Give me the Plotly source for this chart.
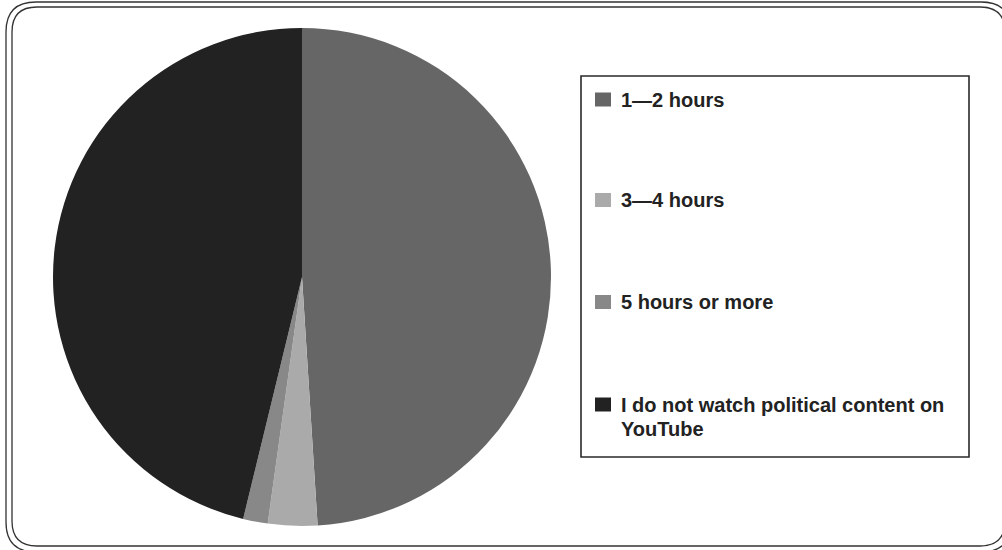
import textwrap
import plotly.graph_objects as go

# Share of respondents by weekly time spent on political YouTube content
labels = ["1\u20142 hours", "3\u20144 hours", "5 hours or more",
          "I do not watch political content on YouTube"]
shares = [49.0, 3.2, 1.6, 46.2]
colors = ["#666666", "#aaaaaa", "#888888", "#222222"]

W, H = 1002, 550


def px(x):
    return x / W


def py(y):
    return 1 - y / H


def rounded_rect(x0, y0, x1, y1, r):
    """SVG path of a rounded rectangle given in pixel coordinates (paper space)."""
    pts = [
        f"M {px(x0 + r)},{py(y0)}",
        f"L {px(x1 - r)},{py(y0)}",
        f"Q {px(x1)},{py(y0)} {px(x1)},{py(y0 + r)}",
        f"L {px(x1)},{py(y1 - r)}",
        f"Q {px(x1)},{py(y1)} {px(x1 - r)},{py(y1)}",
        f"L {px(x0 + r)},{py(y1)}",
        f"Q {px(x0)},{py(y1)} {px(x0)},{py(y1 - r)}",
        f"L {px(x0)},{py(y0 + r)}",
        f"Q {px(x0)},{py(y0)} {px(x0 + r)},{py(y0)}",
        "Z",
    ]
    return " ".join(pts)


fig = go.Figure(go.Pie(
    labels=labels,
    values=shares,
    sort=False,
    direction="clockwise",
    rotation=0,
    marker=dict(colors=colors, line=dict(width=0)),
    textinfo="none",
    hoverinfo="label+percent",
    showlegend=False,
    domain=dict(x=[px(53), px(551)], y=[py(526), py(28)]),
))

shapes = [
    # double rounded frame around the chart
    dict(type="path", xref="paper", yref="paper",
         path=rounded_rect(6, 2, 1011, 552, 30),
         line=dict(color="#333333", width=1.3)),
    dict(type="path", xref="paper", yref="paper",
         path=rounded_rect(12, 7, 1005, 546, 25),
         line=dict(color="#333333", width=1.3)),
    # legend box
    dict(type="rect", xref="paper", yref="paper",
         x0=px(581), x1=px(969), y0=py(457), y1=py(76),
         line=dict(color="#2a2a2a", width=1.6), fillcolor="white"),
]
annotations = []

row_y = [99.5, 200, 302, 404.5]
line_gap = 24.5
for label, color, yc in zip(labels, colors, row_y):
    shapes.append(dict(type="rect", xref="paper", yref="paper",
                       x0=px(595), x1=px(611), y0=py(yc + 7), y1=py(yc - 7),
                       line=dict(width=0), fillcolor=color))
    for i, line in enumerate(textwrap.wrap(label, 35)):
        annotations.append(dict(
            xref="paper", yref="paper", x=px(619), y=py(yc + i * line_gap),
            xanchor="left", yanchor="middle", showarrow=False,
            text=f"<b>{line}</b>",
            font=dict(family="Liberation Sans, Arial, sans-serif", size=20,
                      color="#222222"),
        ))

fig.update_layout(
    width=W, height=H,
    margin=dict(l=0, r=0, t=0, b=0),
    paper_bgcolor="white",
    plot_bgcolor="white",
    shapes=shapes,
    annotations=annotations,
)

fig.write_html("out.html")
